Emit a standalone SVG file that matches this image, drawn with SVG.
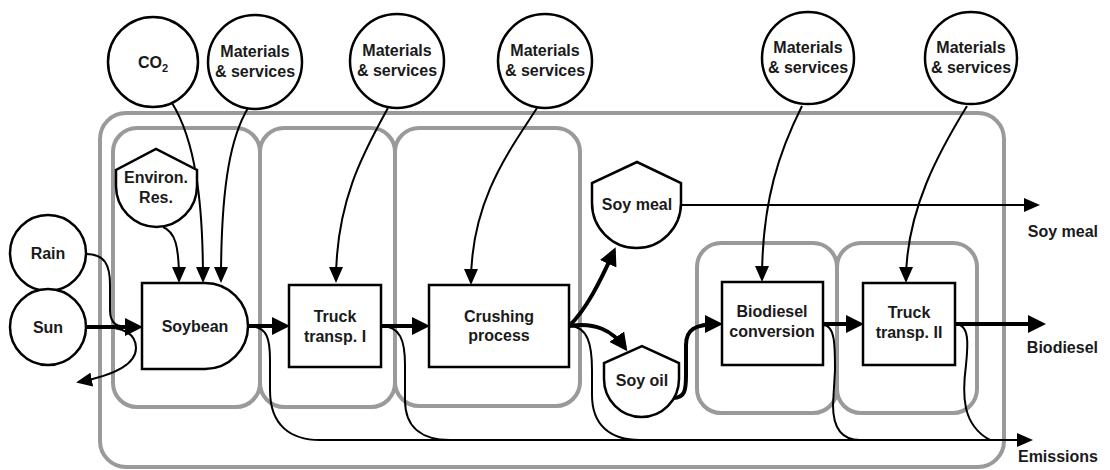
<svg xmlns="http://www.w3.org/2000/svg" width="1110" height="470" viewBox="0 0 1110 470">
<style>
.grp{fill:none;stroke:#9a9a9a;stroke-width:4}
.node{fill:#fff;stroke:#000;stroke-width:2.5}
.t{font-family:"Liberation Sans",Arial,sans-serif;font-weight:bold;font-size:16px;fill:#1a1a1a;text-anchor:middle}
.lbl{font-family:"Liberation Sans",Arial,sans-serif;font-weight:bold;font-size:16px;fill:#1a1a1a;text-anchor:end}
.thin{fill:none;stroke:#000;stroke-width:2}
.thick{fill:none;stroke:#000;stroke-width:4}
</style>
<defs>
<marker id="ah" markerUnits="userSpaceOnUse" markerWidth="16" markerHeight="14" refX="13" refY="7" orient="auto">
<path d="M0,0 L16,7 L0,14 Z" fill="#000"/>
</marker>
<marker id="ahb" markerUnits="userSpaceOnUse" markerWidth="18" markerHeight="18" refX="14" refY="9" orient="auto">
<path d="M0,0 L18,9 L0,18 Z" fill="#000"/>
</marker>
</defs>
<rect x="0" y="0" width="1110" height="470" fill="#fff"/>
<g id="groups">
<rect class="grp" x="100" y="113" width="904" height="354" rx="26"/>
<rect class="grp" x="113" y="128" width="147" height="279" rx="24"/>
<rect class="grp" x="260" y="128" width="135" height="279" rx="24"/>
<rect class="grp" x="395" y="128" width="185" height="278" rx="24"/>
<rect class="grp" x="697" y="243" width="140" height="170" rx="24"/>
<rect class="grp" x="837" y="243" width="140" height="170" rx="24"/>
</g>
<g id="connectors">
<path class="thin" d="M172,103 C195,140 203,200 203,280" marker-end="url(#ah)"/>
<path class="thin" d="M248,108 C232,135 221,180 221,280" marker-end="url(#ah)"/>
<path class="thin" d="M163,227 C175,232 179,245 179,280" marker-end="url(#ah)"/>
<path class="thin" d="M388,108 C365,150 336,200 336,280" marker-end="url(#ah)"/>
<path class="thin" d="M537,108 C510,150 471,200 471,282" marker-end="url(#ah)"/>
<path class="thin" d="M802,106 C780,150 762,200 762,279" marker-end="url(#ah)"/>
<path class="thin" d="M967,106 C940,150 906,210 906,280" marker-end="url(#ah)"/>
<path class="thin" d="M86,254 C105,254 110,265 110,285 L110,310 C110,325 118,327 130,327"/>
<path class="thick" d="M86,327 L139,327" marker-end="url(#ahb)"/>
<path class="thin" d="M100,327 C125,327 136,335 136,348 C136,366 110,376 79,382" marker-end="url(#ah)"/>
<path class="thick" d="M248,326 L286,326" marker-end="url(#ahb)"/>
<path class="thick" d="M381,326 L426,326" marker-end="url(#ahb)"/>
<path class="thick" d="M569,326 C586,310 600,282 614,251" marker-end="url(#ahb)"/>
<path class="thick" d="M569,326 C595,322 612,330 625,348" marker-end="url(#ahb)"/>
<path class="thick" d="M673,398 C685,398 686,390 686,375 L686,345 C686,330 694,324 719,324" marker-end="url(#ahb)"/>
<path class="thick" d="M823,324 L860,324" marker-end="url(#ahb)"/>
<path class="thick" d="M955,324 L1042,324" marker-end="url(#ahb)"/>
<path class="thin" d="M681,205 L1037,205" marker-end="url(#ah)"/>
<path class="thin" d="M248,326 C268,326 270,340 270,360 L270,390 C270,425 290,440 320,440 L1030,440" marker-end="url(#ah)"/>
<path class="thin" d="M381,326 C400,326 405,340 405,365 L405,400 C405,430 425,440 450,440"/>
<path class="thin" d="M569,326 C588,326 592,345 592,370 L592,395 C592,425 610,440 640,440"/>
<path class="thin" d="M823,325 C835,325 835,345 835,370 L833,405 C833,425 840,440 860,440"/>
<path class="thin" d="M955,324 C970,324 968,345 966,365 C962,395 962,425 990,440"/>
</g>
<g id="rain"><circle class="node" cx="48" cy="253" r="38"/><text class="t" x="48" y="259">Rain</text></g>
<g id="sun"><circle class="node" cx="48" cy="327" r="38"/><text class="t" x="48" y="333">Sun</text></g>
<g id="co2"><circle class="node" cx="153" cy="62" r="45"/><text class="t" x="153" y="68">CO<tspan font-size="11" dy="4">2</tspan></text></g>
<g id="mat1"><circle class="node" cx="255" cy="62" r="47"/><text class="t" x="255" y="57">Materials</text><text class="t" x="255" y="77">&amp; services</text></g>
<g id="mat2"><circle class="node" cx="397" cy="61" r="47"/><text class="t" x="397" y="56">Materials</text><text class="t" x="397" y="76">&amp; services</text></g>
<g id="mat3"><circle class="node" cx="545" cy="61" r="47"/><text class="t" x="545" y="56">Materials</text><text class="t" x="545" y="76">&amp; services</text></g>
<g id="mat4"><circle class="node" cx="808" cy="58" r="46"/><text class="t" x="808" y="53">Materials</text><text class="t" x="808" y="73">&amp; services</text></g>
<g id="mat5"><circle class="node" cx="971" cy="58" r="46"/><text class="t" x="971" y="53">Materials</text><text class="t" x="971" y="73">&amp; services</text></g>
<g id="environ"><path class="node" d="M116,186 L116,170 L156,149 L197,170 L197,186 A40.5,41 0 0 1 116,186 Z"/><text class="t" x="156" y="183">Environ.</text><text class="t" x="156" y="203">Res.</text></g>
<g id="soybean"><path class="node" d="M142,283 L205,283 A43,43 0 0 1 205,369 L142,369 Z"/><text class="t" x="195" y="332">Soybean</text></g>
<g id="truck1"><rect class="node" x="289" y="285" width="92" height="82"/><text class="t" x="335" y="322">Truck</text><text class="t" x="335" y="342">transp. I</text></g>
<g id="crushing"><rect class="node" x="429" y="285" width="140" height="82"/><text class="t" x="499" y="322">Crushing</text><text class="t" x="499" y="341">process</text></g>
<g id="soymeal"><path class="node" d="M592,203 L592,183 L637,162 L681,183 L681,203 A44.5,45 0 0 1 592,203 Z"/><text class="t" x="637" y="210">Soy meal</text></g>
<g id="soyoil"><path class="node" d="M604,379 L604,363 L642,346 L679,363 L679,379 A37.5,38 0 0 1 604,379 Z"/><text class="t" x="642" y="386">Soy oil</text></g>
<g id="biodiesel"><rect class="node" x="722" y="282" width="101" height="83"/><text class="t" x="772" y="317">Biodiesel</text><text class="t" x="772" y="337">conversion</text></g>
<g id="truck2"><rect class="node" x="863" y="283" width="92" height="82"/><text class="t" x="909" y="318">Truck</text><text class="t" x="909" y="338">transp. II</text></g>
<g id="outputs">
<text class="lbl" x="1098" y="237">Soy meal</text>
<text class="lbl" x="1098" y="353">Biodiesel</text>
<text class="lbl" x="1098" y="462">Emissions</text>
</g>
</svg>
